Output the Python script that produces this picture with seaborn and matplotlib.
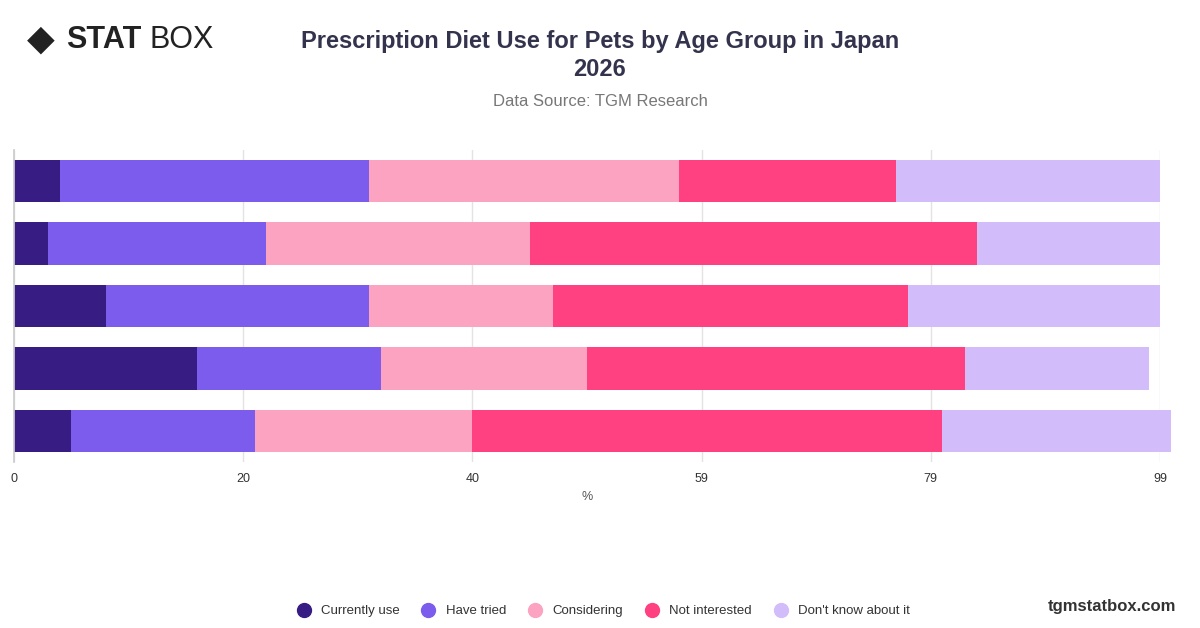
import matplotlib
matplotlib.use("Agg")
from matplotlib import pyplot as plt
from matplotlib.lines import Line2D
import seaborn as sns
import numpy as np

groups = ["Group 1", "Group 2", "Group 3", "Group 4", "Group 5"]
series = ["Currently use", "Have tried", "Considering", "Not interested", "Don't know about it"]
currently_use = [4, 3, 8, 16, 5]
have_tried = [27, 19, 23, 16, 16]
considering = [27, 23, 16, 18, 19]
not_interested = [19, 39, 31, 33, 41]
dont_know = [23, 16, 22, 16, 20]
colors = ["#371c84", "#7b5cec", "#fca3c2", "#ff4081", "#d3bcfa"]
tick_vals = [0, 20, 40, 60, 80, 100]
tick_labels = ["0", "20", "40", "59", "79", "99"]

sns.set_theme(style="white")
plt.rcParams["font.family"] = ["Liberation Sans", "DejaVu Sans"]

fig = plt.figure(figsize=(12, 6.28), dpi=100)
ax = fig.add_axes([14 / 1200, 1 - 462 / 628, 1146 / 1200, 312 / 628])

left = np.zeros(len(groups))
for name, vals, c in zip(series, [currently_use, have_tried, considering, not_interested, dont_know], colors):
    sns.barplot(x=vals, y=groups, left=left, color=c, orient="h", ax=ax, width=0.68,
                linewidth=0, saturation=1, clip_on=False)
    left = left + np.array(vals)

ax.set_xlim(0, 100)
ax.set_ylim(4.5, -0.5)
ax.set_xticks(tick_vals)
ax.set_xticklabels(tick_labels, fontsize=9, color="#333333")
ax.set_yticks([])
ax.set_ylabel("")
ax.set_xlabel("%", fontsize=9, color="#555555")
ax.xaxis.grid(True, color="#e3e3e3", linewidth=1)
ax.set_axisbelow(True)
for s in ["top", "right", "bottom"]:
    ax.spines[s].set_visible(False)
ax.spines["left"].set_color("#cccccc")
ax.tick_params(axis="x", length=0, pad=8)

fig.text(0.5, 0.912, "Prescription Diet Use for Pets by Age Group in Japan\n2026", ha="center", va="center",
         fontsize=17, fontweight="bold", color="#33334d", linespacing=1.3)
fig.text(0.5, 0.838, "Data Source: TGM Research", ha="center", va="center", fontsize=12, color="#777777")
fig.text(0.022, 0.937, "\u25c6", fontsize=26, color="#222222", va="center")
fig.text(0.055, 0.937, "STAT", fontsize=22, fontweight="bold", color="#222222", va="center")
fig.text(0.125, 0.937, "BOX", fontsize=22, color="#222222", va="center")
fig.text(0.98, 0.034, "tgmstatbox.com", ha="right", va="center", fontsize=12, fontweight="bold", color="#333333")

handles = [Line2D([], [], marker="o", linestyle="", markersize=10, markerfacecolor=c, markeredgecolor=c) for c in colors]
fig.legend(handles, series, loc="center", bbox_to_anchor=(0.5, 0.027), ncol=5, frameon=False,
           fontsize=9.5, handletextpad=0.3, columnspacing=1.2, labelcolor="#333333")

fig.savefig("out.png", dpi=100)
